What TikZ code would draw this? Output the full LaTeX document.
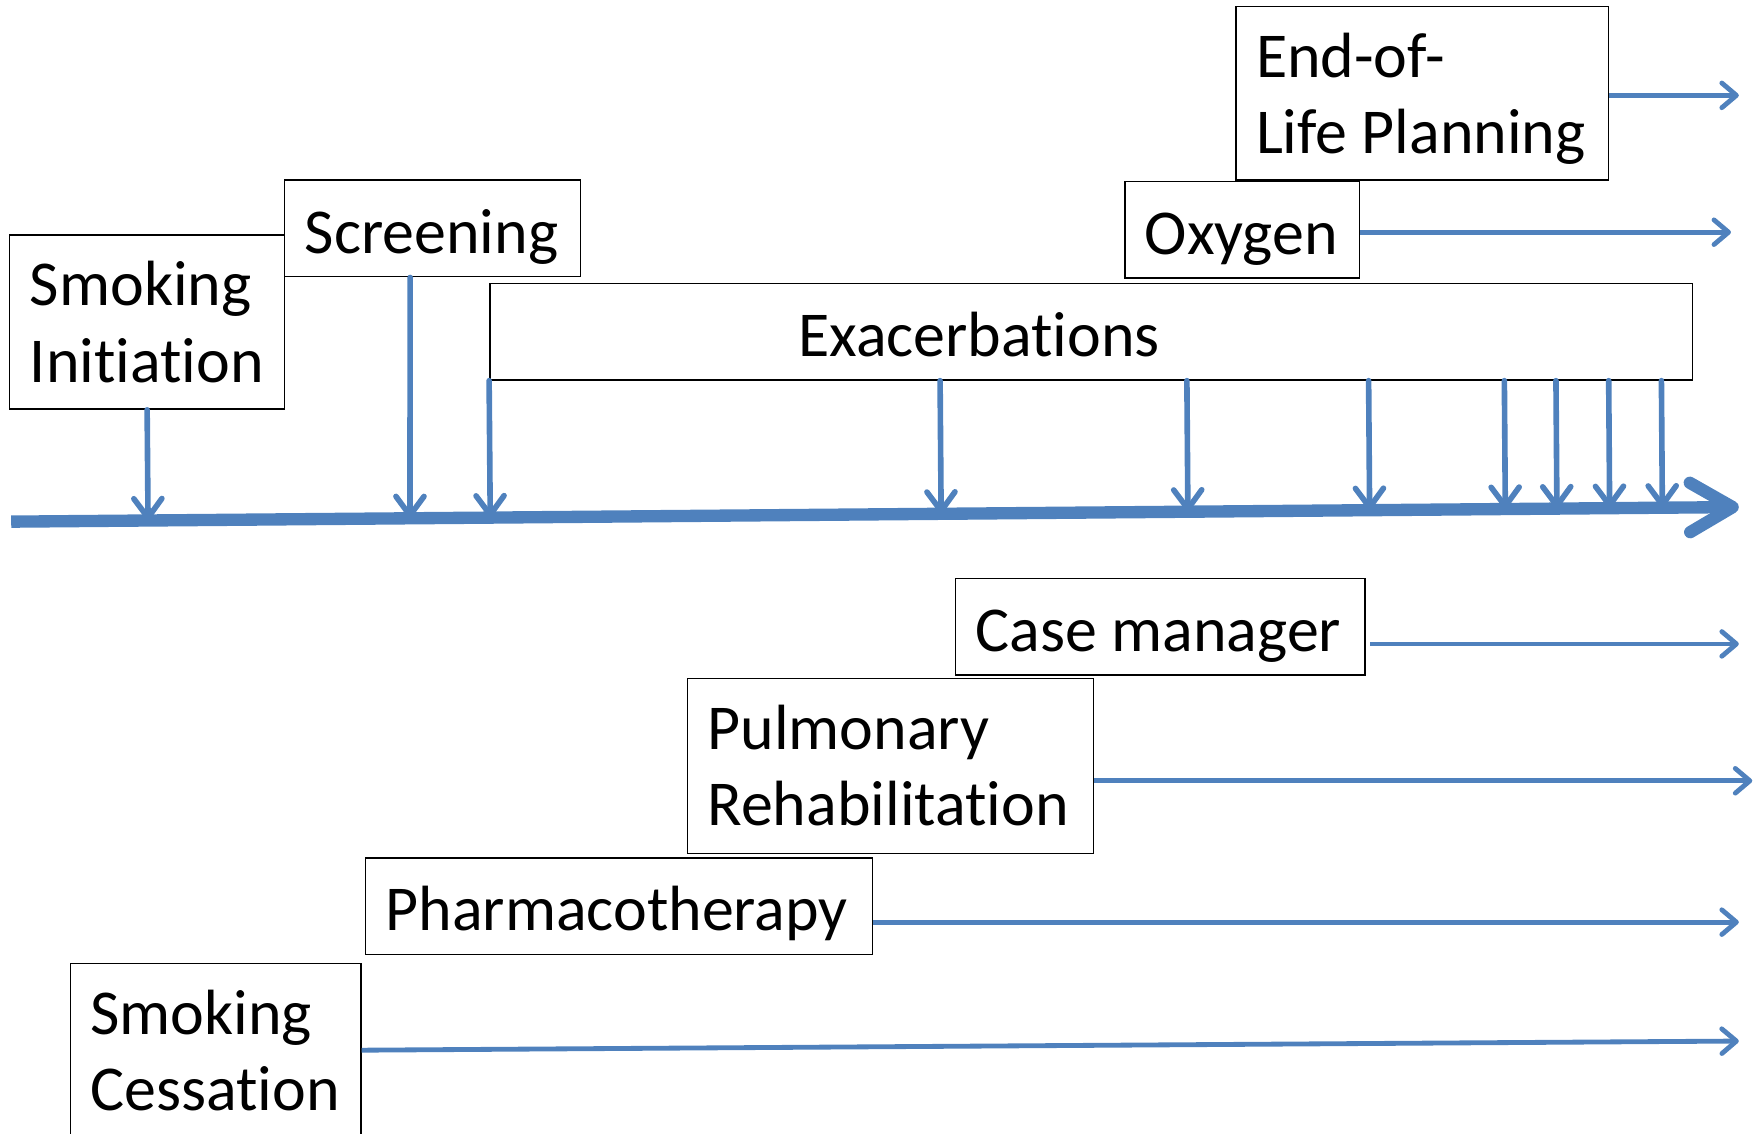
\documentclass[tikz,border=0pt]{standalone}
\usepackage{fontspec}
\setmainfont{Carlito}[Ligatures=NoCommon]
\usetikzlibrary{arrows.meta,calc}
\definecolor{tlblue}{HTML}{4F81BD}

\begin{document}
\begin{tikzpicture}[x=1pt,y=-1pt,
		stage/.style={draw=black, line width=1.3pt, anchor=north west, align=flush left,
			inner xsep=18pt, inner ysep=0pt, font=\fontsize{57}{68}\selectfont},
		oneline/.style={text height=50pt, text depth=6pt},
		tick/.style={draw=tlblue, line width=5pt, line cap=round, -{Straight Barb[length=17pt,width=25pt,round]}},
		run/.style={draw=tlblue, line width=4.3pt, -{Straight Barb[length=13pt,width=22pt,round]}}]
			\useasboundingbox (0,0) rectangle (1568,1010);
			% stages above the time line
			\node[stage, text width=209pt, minimum height=155pt] (init) at (8,209) {\mbox{Smoking}\\\mbox{Initiation}};
			\node[stage, oneline, text width=228pt, minimum height=86pt] (screen) at (253,160) {\mbox{Screening}};
			\node[stage, oneline, text width=1036pt, minimum height=86pt] (exac) at (436,252) {\hspace*{257pt}\mbox{Exacerbations}};
			\node[stage, oneline, text width=173pt, minimum height=86pt] (oxy) at (1002,161) {\mbox{Oxygen}};
			\node[stage, text width=296pt, minimum height=155pt] (eol) at (1101,5) {\mbox{End-of-}\\\raisebox{0pt}[\height][0pt]{Life Planning}};
			% stages below the time line
			\node[stage, oneline, text width=329pt, minimum height=86pt] (case) at (851,515) {\mbox{Case manager}};
			\node[stage, text width=326pt, minimum height=156pt] (pulm) at (612,604) {\mbox{Pulmonary}\\\mbox{Rehabilitation}};
			\node[stage, oneline, text width=416pt, minimum height=86pt] (pharm) at (325,764) {\mbox{Pharmacotherapy}};
			\node[stage, text width=223pt, minimum height=155pt] (cess) at (62,858) {\mbox{Smoking}\\\mbox{Cessation}};
			% time line
			\coordinate (tl0) at (10,465);
			\coordinate (tl1) at (1550,452);
			\draw[draw=tlblue, line width=11pt, -{Straight Barb[length=38pt,width=44pt,round]}] (tl0) -- (tl1);
			\draw[tick] (init.south) -- ($(tl0)!(init.south)!(tl1)$);
			\draw[tick] ([xshift=-20pt]screen.south) -- ($(tl0)!([xshift=-22pt]screen.south)!(tl1)$);
			\foreach \dx in {0,402,622,784,905,951,998,1045}{
				\coordinate (ex) at ([xshift=\dx pt]exac.south west);
				\draw[tick] (ex) -- ($(tl0)!(ex)!(tl1)$);
			}
			% ongoing care
			\coordinate (eolend) at (1550,85);
			\coordinate (oxyend) at (1543,207);
			\coordinate (caseend) at (1550,574);
			\coordinate (pulmend) at (1562,696);
			\coordinate (pharmend) at (1550,822);
			\coordinate (cessend) at (1550,928);
			\draw[run] (eol.east |- eolend) -- (eolend);
			\draw[run] (oxy.east |- oxyend) -- (oxyend);
			\draw[run] ([xshift=4pt]case.east |- caseend) -- (caseend);
			\draw[run] (pulm.east |- pulmend) -- (pulmend);
			\draw[run] (pharm.east |- pharmend) -- (pharmend);
			\draw[run] (cess.east) -- (cessend);
		\end{tikzpicture}
\end{document}
